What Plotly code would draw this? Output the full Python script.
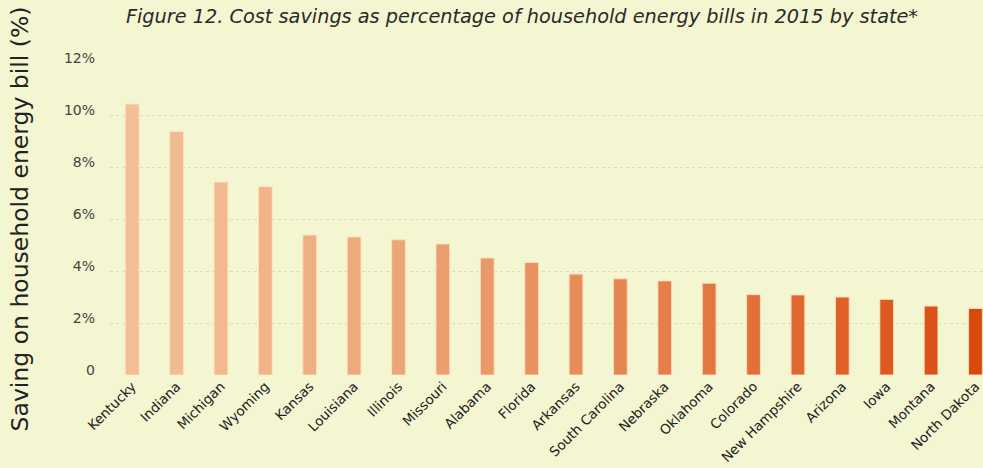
import plotly.graph_objects as go

states = ["Kentucky", "Indiana", "Michigan", "Wyoming", "Kansas", "Louisiana", "Illinois",
          "Missouri", "Alabama", "Florida", "Arkansas", "South Carolina", "Nebraska", "Oklahoma",
          "Colorado", "New Hampshire", "Arizona", "Iowa", "Montana", "North Dakota"]
savings_pct = [10.42, 9.36, 7.42, 7.24, 5.38, 5.31, 5.20, 5.04, 4.50, 4.33, 3.88, 3.70,
               3.62, 3.53, 3.09, 3.08, 3.00, 2.91, 2.65, 2.56]
y_tickvals = [0, 2, 4, 6, 8, 10, 12]
y_ticktext = ["0", "2%", "4%", "6%", "8%", "10%", "12%"]

# colour gradient from light peach to deep orange
c0 = (242, 191, 148)
c1 = (217, 73, 14)
n = len(states)
colors = []
for i in range(n):
    t = (i / (n - 1)) ** 1.3
    colors.append("rgb(%d,%d,%d)" % tuple(round(a + (b - a) * t) for a, b in zip(c0, c1)))

bg = "#f4f5d1"
font_family = "'DejaVu Sans', sans-serif"

fig = go.Figure(go.Bar(
    x=states, y=savings_pct,
    width=0.31,
    marker=dict(color=colors, line=dict(color="rgba(255,225,190,0.9)", width=1)),
))

fig.update_layout(
    width=983, height=468,
    paper_bgcolor=bg, plot_bgcolor=bg,
    margin=dict(l=110, r=0, t=63, b=93, autoexpand=False),
    showlegend=False,
    title=dict(
        text="<i>Figure 12. Cost savings as percentage of household energy bills in 2015 by state*</i>",
        x=0.531, xanchor="center", y=0.965, yanchor="middle",
        font=dict(family=font_family, size=19.3, color="#2a2a2a"),
    ),
    font=dict(family=font_family, color="#333333"),
)
fig.update_xaxes(
    type="category", range=[-0.5, 19.17], automargin=False,
    tickangle=-45, tickfont=dict(size=13.5, color="#222222"),
    showgrid=False, zeroline=False, showline=False, ticks="",
)
fig.update_yaxes(
    range=[0, 12], tickvals=y_tickvals, ticktext=y_ticktext, automargin=False,
    tickfont=dict(size=14, color="#444444"),
    showgrid=True, gridcolor="rgba(190,190,160,0.45)", griddash="dot", gridwidth=1,
    zeroline=False, showline=False, ticks="",
    ticklabelstandoff=14, ticklabelshift=-5,
    title=dict(text="Saving on household energy bill (%)", standoff=28,
               font=dict(size=23.5, color="#222222")),
)

fig.write_html("out.html", config={"displayModeBar": False},
               post_script="document.body.style.margin='0px';document.body.style.padding='0px';")
